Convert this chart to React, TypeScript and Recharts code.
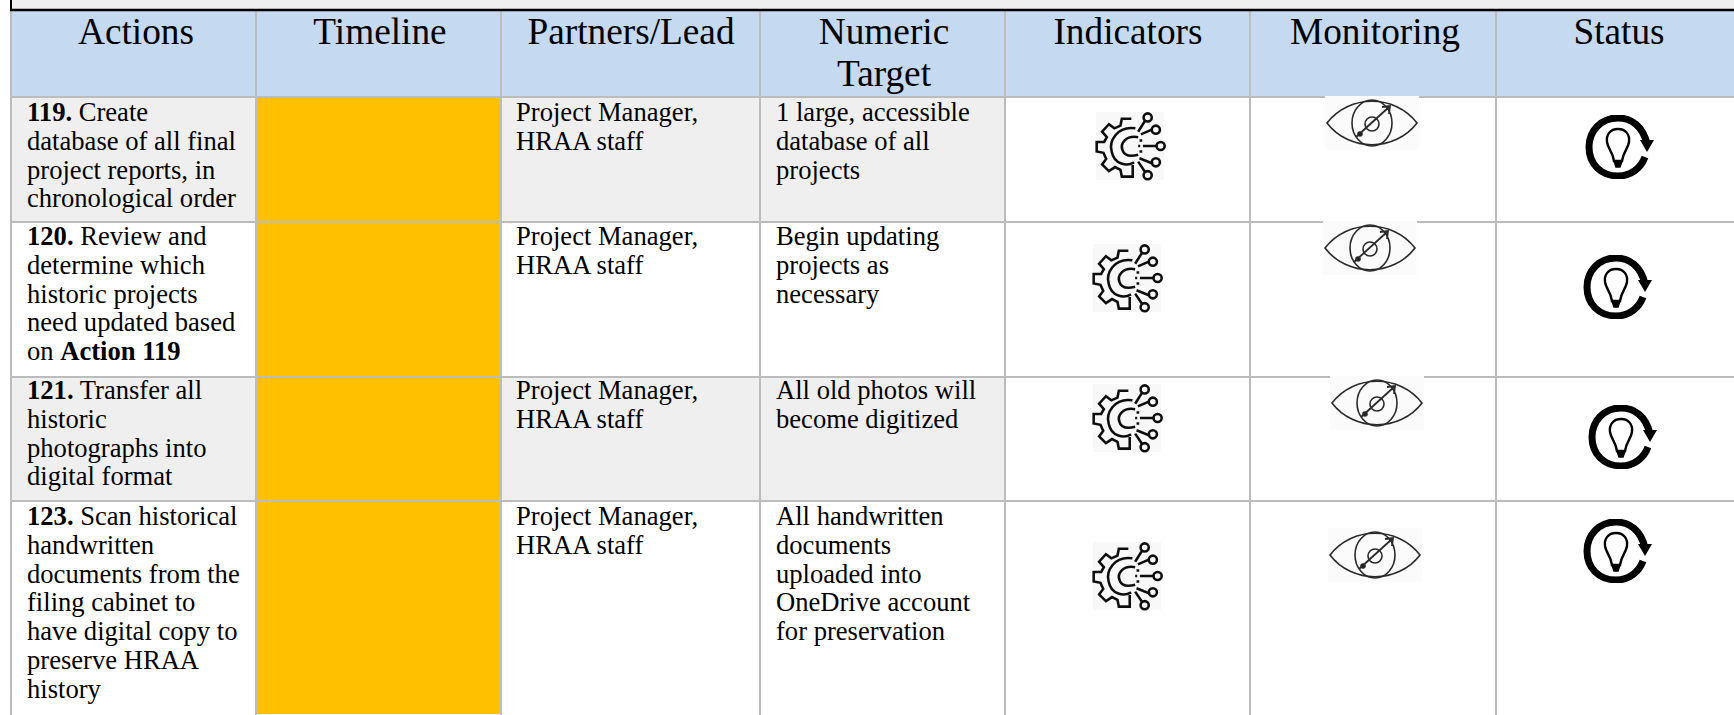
import { Bar, ComposedChart, ReferenceArea, ReferenceLine, Scatter, XAxis, YAxis } from 'recharts';

const headers = ['Actions', 'Timeline', 'Partners/Lead', 'Numeric|Target', 'Indicators', 'Monitoring', 'Status'];

// **..** marks the bold part of a line
const actions = [
  ['**119.** Create', 'database of all final', 'project reports, in', 'chronological order'],
  ['**120.** Review and', 'determine which', 'historic projects', 'need updated based', 'on **Action 119**'],
  ['**121.** Transfer all', 'historic', 'photographs into', 'digital format'],
  ['**123.** Scan historical', 'handwritten', 'documents from the', 'filing cabinet to', 'have digital copy to', 'preserve HRAA', 'history'],
];
const partners = [
  ['Project Manager,', 'HRAA staff'],
  ['Project Manager,', 'HRAA staff'],
  ['Project Manager,', 'HRAA staff'],
  ['Project Manager,', 'HRAA staff'],
];
const targets = [
  ['1 large, accessible', 'database of all', 'projects'],
  ['Begin updating', 'projects as', 'necessary'],
  ['All old photos will', 'become digitized'],
  ['All handwritten', 'documents', 'uploaded into', 'OneDrive account', 'for preservation'],
];

// layout of the table, in page pixels
const W = 1734;
const H = 715;
const columnEdges = [11, 256, 501, 760, 1005, 1250, 1496, W];
const rowEdges = [10, 97, 222, 377, 501, H];
const headerCenters = [136, 380, 631, 884, 1128, 1375, 1619];
const baselines = [121, 245, 399, 525];
const gearCenters = [[1130, 146], [1127, 278], [1127, 418], [1127, 576]];
const eyeCenters = [[1372, 123], [1370, 248], [1377, 403], [1375, 555]];
const bulbCenters = [[1619, 147], [1617, 287], [1622, 437], [1617, 551]];

const LINE_H = 28.8;
const FONT = '"Liberation Serif", "Times New Roman", serif';
const GRID = '#bcbcbc';
const GRAY_ROWS = [0, 2];
const TIMELINE_W = columnEdges[2] - columnEdges[1];

const timelineBars = rowEdges.slice(1, -1).map((top, i) => ({
  x: (columnEdges[1] + columnEdges[2]) / 2,
  span: [top, rowEdges[i + 2]],
}));

const bodyLines = [
  ...actions.flatMap((lines, r) => lines.map((t, i) => ({ x: 27, y: baselines[r] + i * LINE_H, t }))),
  ...partners.flatMap((lines, r) => lines.map((t, i) => ({ x: 516, y: baselines[r] + i * LINE_H, t }))),
  ...targets.flatMap((lines, r) => lines.map((t, i) => ({ x: 776, y: baselines[r] + i * LINE_H, t }))),
];

const headerLines = headers.flatMap((h, c) =>
  h.split('|').map((t, i) => ({ x: headerCenters[c], y: 44 + i * 42, t })),
);

const toPoints = (list: number[][]) => list.map(([x, y]) => ({ x, y }));

// a number axis gives the bar almost no band, so widen it to the column here.
// the y axis is reversed, so height comes in negative. 1px inset keeps the grid lines visible
function TimelineBar({ x, y, width, height, fill }: any) {
  return (
    <rect
      x={x + width / 2 - TIMELINE_W / 2 + 1}
      y={Math.min(y, y + height) + 1}
      width={TIMELINE_W - 2}
      height={Math.abs(height) - 2}
      fill={fill}
    />
  );
}

function BodyText({ cx, cy, payload }: any) {
  const parts = payload.t.split('**');
  return (
    <text x={cx} y={cy} fontFamily={FONT} fontSize={26.6} fill="#000">
      {parts.map((p: string, i: number) => (
        <tspan key={i} fontWeight={i % 2 ? 700 : 400}>{p}</tspan>
      ))}
    </text>
  );
}

function HeaderText({ cx, cy, payload }: any) {
  return (
    <text x={cx} y={cy} textAnchor="middle" fontFamily={FONT} fontSize={37.3} fill="#000">
      {payload.t}
    </text>
  );
}

function GearIcon({ cx, cy }: any) {
  return (
    <g transform={`translate(${cx - 34} ${cy - 34}) scale(0.68)`} fill="none" stroke="#111" strokeWidth={3.8} filter="url(#soft)">
      <rect x={0} y={0} width={100} height={100} fill="#f8f8f8" stroke="none" />
      <path d="M52 10 H38 L36 20 L27 24 L19 18 L9 29 L16 37 L12 44 H1 V58 L11 60 L15 69 L9 77 L19 87 L28 81 L36 85 L38 95 H54 V78" />
      <path d="M58 24 C30 20 19 44 23 58 C27 78 46 80 56 74" />
      <path d="M62 37 C44 34 35 46 39 56 C42 66 54 65 62 63" />
      <path d="M62 50 H65 M69 50 H90 M62 29 L72 13 M66 33 L82 26 M64 68 L84 76 M62 73 L72 88 M64 42 L68 42 M64 58 L68 58" />
      <circle cx={76} cy={8} r={6} />
      <circle cx={88} cy={26} r={6} />
      <circle cx={95} cy={50} r={6} />
      <circle cx={88} cy={74} r={6} />
      <circle cx={76} cy={93} r={6} />
    </g>
  );
}

function EyeIcon({ cx, cy }: any) {
  return (
    <g transform={`translate(${cx - 47} ${cy - 27})`} fill="none" stroke="#2a2a2a" strokeWidth={1.6}>
      <rect x={0} y={0} width={94} height={54} fill="#fbfbfb" stroke="none" />
      <g filter="url(#soft)">
        <path d="M2 27 C24 -2 70 -2 92 27 C70 56 24 56 2 27 Z" />
        <ellipse cx={47} cy={27} rx={20} ry={23} />
        <circle cx={47} cy={28} r={7} />
        <path d="M31 41 L64 11 M57 11 L65 10 L64 18" strokeWidth={1.8} />
        <circle cx={35} cy={38} r={2} fill="#222" />
      </g>
    </g>
  );
}

function BulbIcon({ cx, cy }: any) {
  return (
    <g transform={`translate(${cx - 34} ${cy - 33})`} fill="none" stroke="#000" filter="url(#soft)">
      <path d="M62 30 C58 12 46 4 33 4 C16 4 4 17 4 33 C4 50 16 62 33 62 C46 62 56 54 60 43" strokeWidth={7} />
      <path d="M55 26 L69 26 L62 38 Z" fill="#000" stroke="none" />
      <path d="M33 15 C25 15 21 21 22 28 C23 35 28 38 29 47 H37 C38 38 43 35 44 28 C45 21 41 15 33 15 Z" strokeWidth={2.4} />
      <path d="M29 47 H37 L35 53 H31 Z" fill="#000" strokeWidth={1.5} />
    </g>
  );
}

export default function App() {
  const tableTop = rowEdges[0];
  return (
    <div style={{ position: 'absolute', left: 0, top: 0, width: W, height: H, background: '#fff' }}>
      <ComposedChart width={W} height={H} data={timelineBars} margin={{ top: 0, right: 0, bottom: 0, left: 0 }}>
        <defs>
          <filter id="soft" x="-5%" y="-5%" width="110%" height="110%">
            <feGaussianBlur stdDeviation={0.5} />
          </filter>
        </defs>
        <XAxis type="number" dataKey="x" domain={[0, W]} hide allowDataOverflow />
        <YAxis type="number" domain={[0, H]} reversed hide allowDataOverflow />

        {/* strip of the box above the table */}
        <ReferenceArea x1={columnEdges[0]} x2={W} y1={0.01} y2={tableTop} fill="#efefef" fillOpacity={1} stroke="none" />
        <ReferenceArea x1={columnEdges[0]} x2={W} y1={tableTop} y2={rowEdges[1]} fill="#c5d9f0" fillOpacity={1} stroke="none" />
        {GRAY_ROWS.map((r) => (
          <ReferenceArea
            key={r}
            x1={columnEdges[0]}
            x2={columnEdges[4]}
            y1={rowEdges[r + 1]}
            y2={rowEdges[r + 2]}
            fill="#efefef"
            fillOpacity={1}
            stroke="none"
          />
        ))}

        <Bar dataKey="span" fill="#ffc000" barSize={TIMELINE_W} shape={TimelineBar} isAnimationActive={false} />

        {columnEdges.slice(0, -1).map((x) => (
          <ReferenceLine key={x} segment={[{ x, y: tableTop }, { x, y: H }]} stroke={GRID} strokeWidth={2} />
        ))}
        {rowEdges.slice(1, -1).map((y) => (
          <ReferenceLine key={y} segment={[{ x: columnEdges[0], y }, { x: W, y }]} stroke={GRID} strokeWidth={2} />
        ))}
        <ReferenceLine segment={[{ x: 10, y: tableTop }, { x: W, y: tableTop }]} stroke="#000" strokeWidth={2.5} />
        <ReferenceLine segment={[{ x: columnEdges[0], y: 0 }, { x: columnEdges[0], y: tableTop }]} stroke="#000" strokeWidth={2} />

        <Scatter data={headerLines} dataKey="y" shape={HeaderText} isAnimationActive={false} />
        <Scatter data={bodyLines} dataKey="y" shape={BodyText} isAnimationActive={false} />
        <Scatter data={toPoints(gearCenters)} dataKey="y" shape={GearIcon} isAnimationActive={false} />
        <Scatter data={toPoints(eyeCenters)} dataKey="y" shape={EyeIcon} isAnimationActive={false} />
        <Scatter data={toPoints(bulbCenters)} dataKey="y" shape={BulbIcon} isAnimationActive={false} />
      </ComposedChart>
    </div>
  );
}
